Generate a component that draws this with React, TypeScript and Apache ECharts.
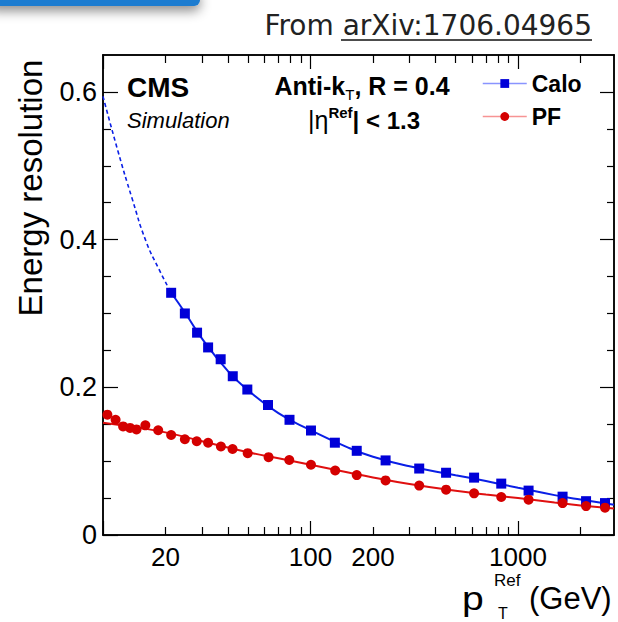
import React, { useEffect, useRef } from 'react';
import * as echarts from 'echarts';

// ---- data ----
const caloPt = [21.3, 24.8, 28.4, 32.1, 36.9, 42.2, 49.6, 62.4, 79.2, 100.5, 131, 167, 230, 334, 450, 614, 830, 1124, 1639, 2127, 2625];
const caloRes = [0.328, 0.300, 0.274, 0.254, 0.238, 0.215, 0.197, 0.176, 0.156, 0.1415, 0.125, 0.114, 0.101, 0.090, 0.0843, 0.0777, 0.0696, 0.0601, 0.0519, 0.0458, 0.0432];
const pfPt = [10.5, 11.5, 12.5, 13.5, 14.5, 16.0, 18.45, 21.3, 24.8, 28.3, 32.1, 37.0, 42.1, 49.8, 62.8, 79.0, 100.5, 131.5, 167, 230, 334, 450, 614, 830, 1124, 1639, 2127, 2625];
const pfRes = [0.163, 0.156, 0.147, 0.145, 0.143, 0.1485, 0.1418, 0.1354, 0.1297, 0.127, 0.1249, 0.1199, 0.1165, 0.1108, 0.1054, 0.1016, 0.0951, 0.0874, 0.0811, 0.0739, 0.0669, 0.0614, 0.0564, 0.0514, 0.0478, 0.0432, 0.0392, 0.037];

// fit curves
const caloFitDashPt = [10, 11.8, 13.8, 16.1, 18.6, 21.3];
const caloFitDashRes = [0.594, 0.52, 0.456, 0.398, 0.36, 0.328];
const caloFitPt = [21.3, 25, 30, 40, 50, 70, 100, 150, 200, 300, 500, 700, 1000, 1500, 2000, 2900];
const caloFitRes = [0.328, 0.300, 0.266, 0.222, 0.196, 0.165, 0.142, 0.119, 0.106, 0.093, 0.081, 0.073, 0.064, 0.054, 0.048, 0.041];
const pfFitPt = [10, 15, 20, 30, 50, 70, 100, 150, 200, 300, 500, 700, 1000, 1500, 2000, 2900];
const pfFitRes = [0.152, 0.145, 0.139, 0.127, 0.112, 0.104, 0.095, 0.085, 0.078, 0.069, 0.060, 0.055, 0.050, 0.044, 0.040, 0.036];

// axes
const X_MIN = 10;
const X_MAX = 2900;
const Y_MIN = 0;
const Y_MAX = 0.65;
const xLabelValues = [20, 100, 200, 1000];
const xMajorTicks = [10, 100, 1000];
const xMinorTicks = [20, 30, 40, 50, 60, 70, 80, 90, 200, 300, 400, 500, 600, 700, 800, 900, 2000];
const yLabelValues = [0, 0.2, 0.4, 0.6];
const yMinorTicks = [0.05, 0.1, 0.15, 0.25, 0.3, 0.35, 0.45, 0.5, 0.55];

const FONT = "'Liberation Sans', Arial, Helvetica, sans-serif";
const lg = (v: number) => Math.log10(v);
const pts = (xs: number[], ys: number[]) => xs.map((x, i) => [lg(x), ys[i]]);

const BLUE_PT = '#0000d8';
const BLUE_LN = '#0a1fe6';
const RED_PT = '#d40000';
const RED_LN = '#e01010';

function xAx(position: string, ticks: number[], len: number, labels?: number[]) {
  return {
    type: 'value',
    position,
    min: lg(X_MIN),
    max: lg(X_MAX),
    axisLine: { show: true, onZero: false, lineStyle: { color: '#000', width: 1.5 } },
    axisTick: { show: true, inside: true, length: len, customValues: ticks.map(lg), lineStyle: { color: '#000', width: 1.2 } },
    axisLabel: labels
      ? {
          show: true,
          customValues: labels.map(lg),
          formatter: (v: number) => String(Math.round(Math.pow(10, v))),
          fontSize: 26,
          fontFamily: FONT,
          color: '#000',
          margin: 9,
        }
      : { show: false },
    splitLine: { show: false },
  };
}

function yAx(position: string, ticks: number[], len: number, labels?: number[]) {
  return {
    type: 'value',
    position,
    min: Y_MIN,
    max: Y_MAX,
    axisLine: { show: true, onZero: false, lineStyle: { color: '#000', width: 1.5 } },
    axisTick: { show: true, inside: true, length: len, customValues: ticks, lineStyle: { color: '#000', width: 1.2 } },
    axisLabel: labels
      ? {
          show: true,
          customValues: labels,
          formatter: (v: number) => (v === 0 ? '0' : String(v)),
          fontSize: 27,
          fontFamily: FONT,
          color: '#000',
          margin: 6,
        }
      : { show: false },
    splitLine: { show: false },
  };
}

export default function App() {
  const ref = useRef<HTMLDivElement>(null);
  useEffect(() => {
    if (!ref.current) return;
    const chart = echarts.init(ref.current, undefined, { renderer: 'svg' });
    const option: any = {
      animation: false,
      backgroundColor: '#fff',
      grid: { left: 103, top: 55, width: 511, height: 480, containLabel: false, outerBoundsMode: 'none' },
      xAxis: [
        xAx('bottom', xMajorTicks, 14, xLabelValues),
        xAx('bottom', xMinorTicks, 8),
        xAx('top', xMajorTicks, 14),
        xAx('top', xMinorTicks, 8),
      ],
      yAxis: [
        yAx('left', yLabelValues, 15, yLabelValues),
        yAx('left', yMinorTicks, 8),
        yAx('right', yLabelValues, 14),
        yAx('right', yMinorTicks, 7),
      ],
      legend: {
        data: [
          { name: 'Calo', lineStyle: { color: 'rgba(40,60,255,0.55)', width: 1.5, opacity: 1 } },
          { name: 'PF', lineStyle: { color: 'rgba(240,60,60,0.55)', width: 1.5, opacity: 1 } },
        ],
        orient: 'vertical',
        left: 477,
        top: 67,
        itemWidth: 44,
        itemHeight: 11,
        itemGap: 10,
        selectedMode: false,
        textStyle: { fontSize: 23, fontWeight: 'bold', fontFamily: FONT, color: '#000' },
      },
      series: [
        {
          type: 'line', name: 'CaloFitDash', data: pts(caloFitDashPt, caloFitDashRes), smooth: true, symbol: 'none',
          lineStyle: { color: BLUE_LN, width: 1.6, type: [4, 3] }, silent: true,
        },
        {
          type: 'line', name: 'CaloFit', data: pts(caloFitPt, caloFitRes), smooth: true, symbol: 'none',
          lineStyle: { color: BLUE_LN, width: 2 }, silent: true,
        },
        {
          type: 'line', name: 'PFFit', data: pts(pfFitPt, pfFitRes), smooth: true, symbol: 'none',
          lineStyle: { color: RED_LN, width: 2 }, silent: true,
        },
        {
          type: 'line', name: 'Calo', data: pts(caloPt, caloRes), symbol: 'rect', symbolSize: 10,
          itemStyle: { color: BLUE_PT }, lineStyle: { opacity: 0, color: BLUE_PT }, z: 5,
        },
        {
          type: 'line', name: 'PF', data: pts(pfPt, pfRes), symbol: 'circle', symbolSize: 10,
          itemStyle: { color: RED_PT }, lineStyle: { opacity: 0, color: RED_PT }, z: 5,
        },
      ],
      graphic: [
        {
          type: 'rect', shape: { x: -12, y: -12, width: 212, height: 18, r: 6 },
          style: { fill: '#1b7bd0', shadowBlur: 12, shadowColor: 'rgba(0,0,0,0.45)', shadowOffsetY: 5 }, z: 10,
        },
        {
          type: 'text', x: 592, y: 25,
          style: { text: 'From arXiv:1706.04965', fontSize: 28, fontFamily: "'DejaVu Sans', sans-serif", fontWeight: 'normal', fill: '#222', align: 'right', verticalAlign: 'middle' },
        },
        { type: 'line', shape: { x1: 341, y1: 40, x2: 592, y2: 40 }, style: { stroke: '#111', lineWidth: 1.5 } },
        {
          type: 'text', x: 30, y: 188, rotation: Math.PI / 2,
          style: { text: 'Energy resolution', fontSize: 33, fontFamily: FONT, fill: '#000', align: 'center', verticalAlign: 'middle' },
        },
        {
          type: 'text', x: 127, y: 87,
          style: { text: 'CMS', fontSize: 28, fontWeight: 'bold', fontFamily: FONT, fill: '#000', align: 'left', verticalAlign: 'middle' },
        },
        {
          type: 'text', x: 127, y: 120,
          style: { text: 'Simulation', fontSize: 22, fontStyle: 'italic', fontFamily: FONT, fill: '#000', align: 'left', verticalAlign: 'middle' },
        },
        {
          type: 'text', x: 362, y: 86,
          style: {
            text: '{b|Anti-k}{s|T}{b|, R = 0.4}', align: 'center', verticalAlign: 'middle', fill: '#000',
            rich: {
              b: { fontSize: 25, fontWeight: 'bold', fontFamily: FONT, lineHeight: 32 },
              s: { fontSize: 15, fontFamily: FONT, verticalAlign: 'bottom', lineHeight: 15 },
            },
          },
        },
        {
          type: 'text', x: 364, y: 120,
          style: {
            text: '{n||η}{p|Ref}{b|| < 1.3}', align: 'center', verticalAlign: 'middle', fill: '#000',
            rich: {
              n: { fontSize: 25, fontFamily: FONT, lineHeight: 30 },
              p: { fontSize: 15, fontWeight: 'bold', fontFamily: FONT, verticalAlign: 'top', lineHeight: 15 },
              b: { fontSize: 24, fontWeight: 'bold', fontFamily: FONT, lineHeight: 30 },
            },
          },
        },
        {
          type: 'text', x: 462, y: 598, scaleX: 1.15,
          style: { text: 'p', fontSize: 34, fontFamily: FONT, fill: '#000', align: 'left', verticalAlign: 'middle' },
        },
        {
          type: 'text', x: 494, y: 580,
          style: { text: 'Ref', fontSize: 17, fontFamily: FONT, fill: '#000', align: 'left', verticalAlign: 'middle' },
        },
        {
          type: 'text', x: 498, y: 613,
          style: { text: 'T', fontSize: 16, fontFamily: FONT, fill: '#000', align: 'left', verticalAlign: 'middle' },
        },
        {
          type: 'text', x: 529, y: 598,
          style: { text: '(GeV)', fontSize: 31, fontFamily: FONT, fill: '#000', align: 'left', verticalAlign: 'middle' },
        },
      ],
    };
    chart.setOption(option);
    return () => chart.dispose();
  }, []);
  return <div ref={ref} style={{ position: 'fixed', left: 0, top: 0, width: 618, height: 622 }} />;
}
